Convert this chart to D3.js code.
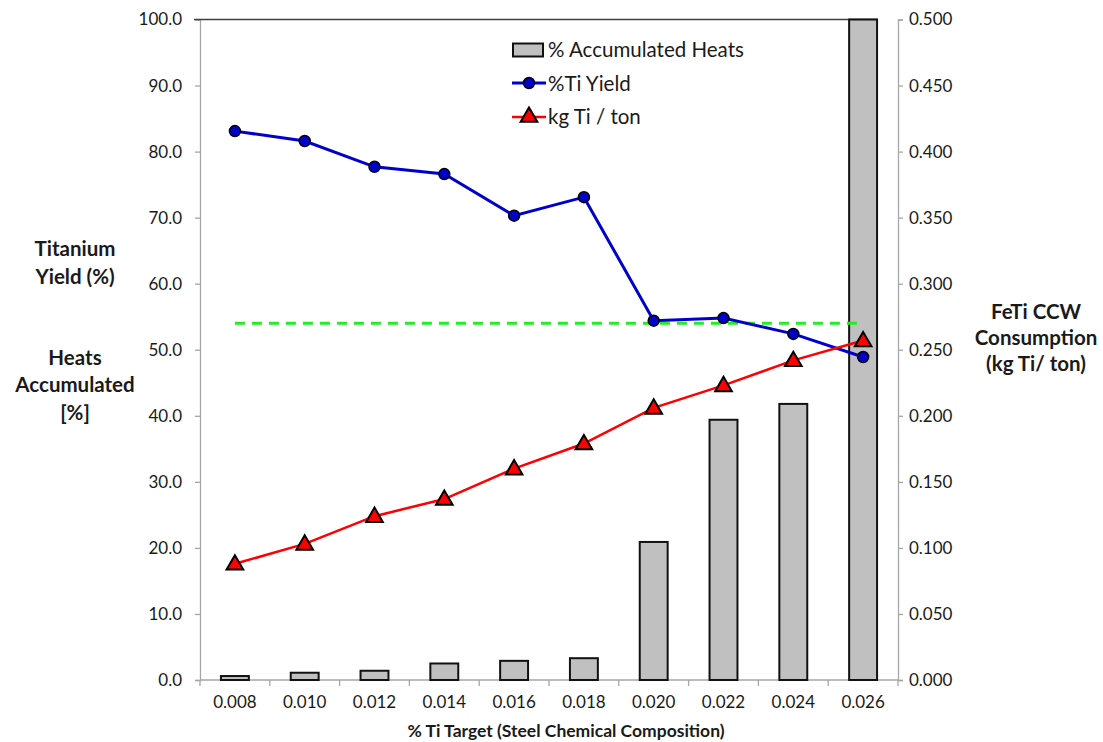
<!DOCTYPE html>
<html>
<head>
<meta charset="utf-8">
<script src="https://cdn.jsdelivr.net/npm/d3@7/dist/d3.min.js"></script>
<style>
  html, body { margin: 0; padding: 0; background: #fff; }
  svg { display: block; font-family: Lato, "Open Sans", sans-serif; }
</style>
</head>
<body>
<svg id="chart" width="1103" height="742"></svg>
<script>
// Ti target categories (% Ti in steel chemical composition)
const categories = ["0.008", "0.010", "0.012", "0.014", "0.016", "0.018", "0.020", "0.022", "0.024", "0.026"];
// Accumulated heats [%] (bars, left axis)
const accumulatedHeats = [0.6, 1.1, 1.4, 2.5, 2.9, 3.3, 20.9, 39.4, 41.8, 100.0];
// Titanium yield [%] (blue line, left axis)
const tiYield = [83.1, 81.6, 77.7, 76.6, 70.3, 73.1, 54.4, 54.8, 52.4, 48.9];
// FeTi CCW consumption [kg Ti / ton] (red line, right axis)
const kgTiPerTon = [0.088, 0.103, 0.124, 0.137, 0.160, 0.179, 0.206, 0.223, 0.242, 0.257];
// Reference level (green dashed line, left axis)
const referenceLevel = 54.0;

const leftTicks = d3.range(0, 100.01, 10);
const rightTicks = d3.range(0, 0.5001, 0.05);

const svg = d3.select("#chart");
const plot = { left: 200, right: 898, top: 19.5, bottom: 680 };

const x = d3.scaleBand().domain(categories).range([plot.left, plot.right]);
const yL = d3.scaleLinear().domain([0, 100]).range([plot.bottom, plot.top]);
const yR = d3.scaleLinear().domain([0, 0.5]).range([plot.bottom, plot.top]);
const cx = c => x(c) + x.bandwidth() / 2;

const axisColor = "#a6a6a6";
const textColor = "#1a1a1a";

// Axes
const leftAxis = svg.append("g")
  .attr("transform", `translate(${plot.left},0)`)
  .call(d3.axisLeft(yL).tickValues(leftTicks).tickFormat(d3.format(".1f")).tickSize(5).tickPadding(13));
const rightAxis = svg.append("g")
  .attr("transform", `translate(${plot.right},0)`)
  .call(d3.axisRight(yR).tickValues(rightTicks).tickFormat(d3.format(".3f")).tickSize(5).tickPadding(6));
const bottomAxis = svg.append("g")
  .attr("transform", `translate(0,${plot.bottom})`)
  .call(d3.axisBottom(x).tickSize(0).tickPadding(16));

[leftAxis, rightAxis, bottomAxis].forEach(g => {
  g.select(".domain").attr("stroke", axisColor).attr("stroke-width", 1.3);
  g.selectAll(".tick line").attr("stroke", axisColor).attr("stroke-width", 1.3);
  g.selectAll("text").attr("fill", textColor).style("font-size", "17px").style("font-family", "Lato, sans-serif");
});
bottomAxis.select(".domain").attr("d", `M${plot.left},0H${plot.right}`);

// Category boundary ticks on the x axis
const boundaries = categories.map(c => x(c)).concat([plot.right]);
svg.append("g").selectAll("line").data(boundaries).join("line")
  .attr("x1", d => d).attr("x2", d => d)
  .attr("y1", plot.bottom).attr("y2", plot.bottom + 6)
  .attr("stroke", axisColor).attr("stroke-width", 1.3);

// Top border of the plot area
svg.append("line")
  .attr("x1", plot.left - 6).attr("x2", x(categories[categories.length - 1]) + x.bandwidth() * 0.7)
  .attr("y1", yL(100)).attr("y2", yL(100))
  .attr("stroke", "#404040").attr("stroke-width", 1.5);

// Bars
const barW = x.bandwidth() * 0.4;
svg.append("g").selectAll("rect").data(categories).join("rect")
  .attr("x", c => cx(c) - barW / 2)
  .attr("width", barW)
  .attr("y", (c, i) => yL(accumulatedHeats[i]))
  .attr("height", (c, i) => yL(0) - yL(accumulatedHeats[i]))
  .attr("fill", "#c0c0c0")
  .attr("stroke", "#111")
  .attr("stroke-width", 2);

// Reference dashed line
svg.append("path")
  .datum(categories)
  .attr("d", d3.line().x(c => cx(c)).y(() => yL(referenceLevel)))
  .attr("fill", "none")
  .attr("stroke", "#22ee22")
  .attr("stroke-width", 3)
  .attr("stroke-dasharray", "10,7");

// Ti yield line
svg.append("path")
  .datum(categories)
  .attr("d", d3.line().x(c => cx(c)).y((c, i) => yL(tiYield[i])))
  .attr("fill", "none")
  .attr("stroke", "#0000cc")
  .attr("stroke-width", 3);

// kg Ti / ton line
svg.append("path")
  .datum(categories)
  .attr("d", d3.line().x(c => cx(c)).y((c, i) => yR(kgTiPerTon[i])))
  .attr("fill", "none")
  .attr("stroke", "#ff0000")
  .attr("stroke-width", 2.5);

// Yield markers
svg.append("g").selectAll("circle").data(categories).join("circle")
  .attr("cx", c => cx(c))
  .attr("cy", (c, i) => yL(tiYield[i]))
  .attr("r", 5.5)
  .attr("fill", "#0000cc")
  .attr("stroke", "#000")
  .attr("stroke-width", 1.5);

// Consumption markers
const tri = d3.symbol().type(d3.symbolTriangle).size(120);
svg.append("g").selectAll("path").data(categories).join("path")
  .attr("d", tri)
  .attr("transform", (c, i) => `translate(${cx(c)},${yR(kgTiPerTon[i]) + 1})`)
  .attr("fill", "#ff0000")
  .attr("stroke", "#000")
  .attr("stroke-width", 2);

// Legend
const legend = svg.append("g").style("font-size", "20.5px").attr("fill", textColor);
legend.append("rect").attr("x", 513).attr("y", 43.5).attr("width", 30).attr("height", 13)
  .attr("fill", "#c0c0c0").attr("stroke", "#111").attr("stroke-width", 2);
legend.append("text").attr("x", 548).attr("y", 50).attr("dy", "0.35em").text("% Accumulated Heats");

legend.append("line").attr("x1", 512).attr("x2", 546).attr("y1", 83).attr("y2", 83)
  .attr("stroke", "#0000cc").attr("stroke-width", 3);
legend.append("circle").attr("cx", 529).attr("cy", 83).attr("r", 5.5)
  .attr("fill", "#0000cc").attr("stroke", "#000").attr("stroke-width", 1.5);
legend.append("text").attr("x", 548).attr("y", 84).attr("dy", "0.35em").text("%Ti Yield");

legend.append("line").attr("x1", 512).attr("x2", 546).attr("y1", 117).attr("y2", 117)
  .attr("stroke", "#ff0000").attr("stroke-width", 2.5);
legend.append("path").attr("d", tri).attr("transform", "translate(529,117)")
  .attr("fill", "#ff0000").attr("stroke", "#000").attr("stroke-width", 2);
legend.append("text").attr("x", 548).attr("y", 117).attr("dy", "0.35em").text("kg Ti / ton");

// Axis titles
function block(lines, xPos, baselines) {
  const t = svg.append("text")
    .attr("text-anchor", "middle")
    .attr("fill", textColor)
    .style("font-size", "20.5px")
    .style("font-weight", "bold");
  lines.forEach((s, i) => t.append("tspan").attr("x", xPos).attr("y", baselines[i]).text(s));
}
block(["Titanium", "Yield (%)"], 75, [256, 284]);
block(["Heats", "Accumulated", "[%]"], 75, [365, 392, 420]);
block(["FeTi CCW", "Consumption", "(kg Ti/ ton)"], 1036, [319, 345, 371]);

svg.append("text")
  .attr("x", 566)
  .attr("y", 737)
  .attr("text-anchor", "middle")
  .attr("fill", textColor)
  .style("font-size", "17.5px")
  .style("font-weight", "bold")
  .text("% Ti Target (Steel Chemical Composition)");
</script>
</body>
</html>
